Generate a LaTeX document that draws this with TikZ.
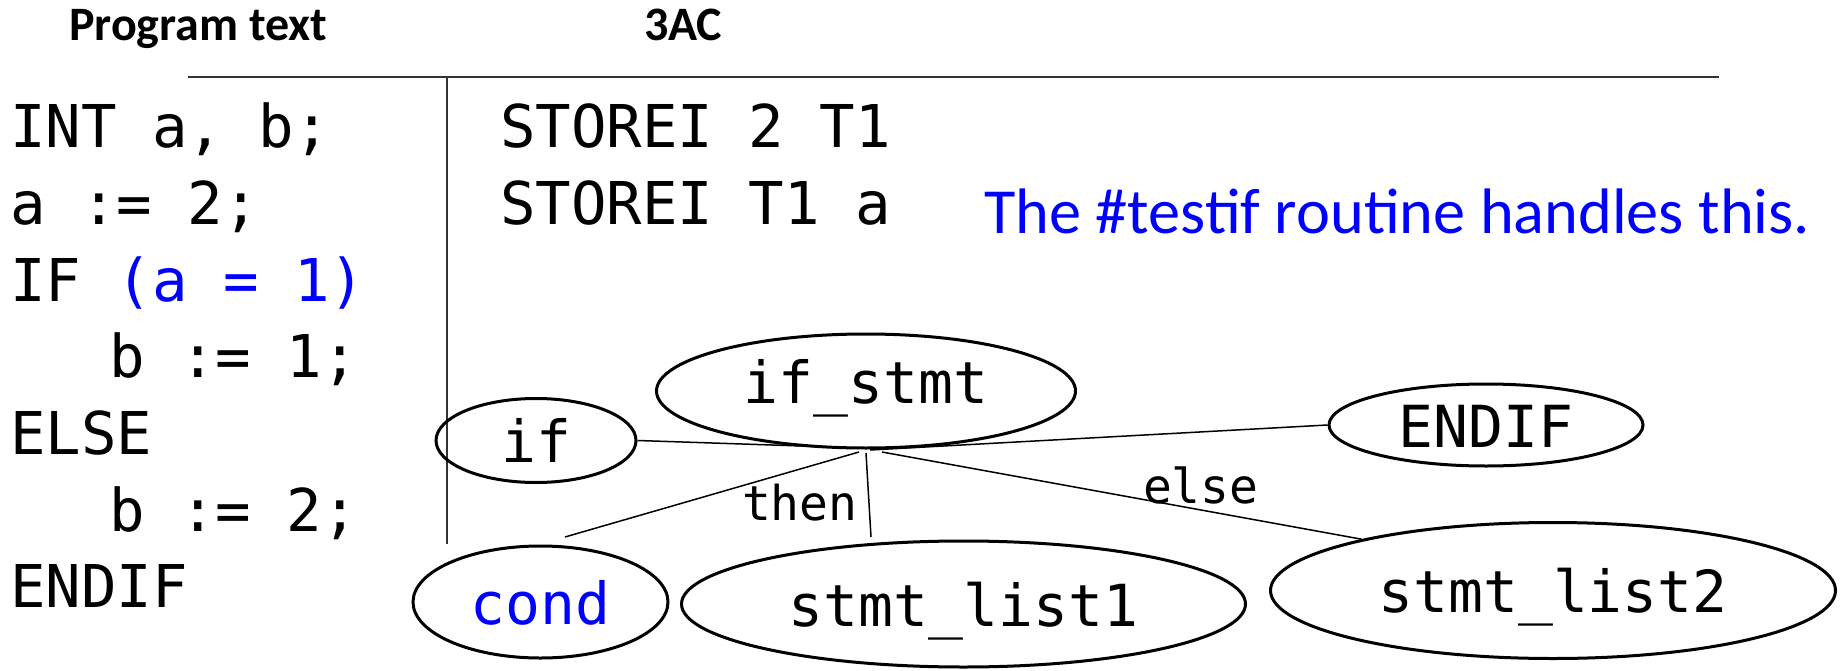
\documentclass[tikz,border=0pt]{standalone}
\usepackage{fontspec}
\setmainfont{Carlito}
\newfontfamily\mono{DejaVu Sans Mono}
\usetikzlibrary{shapes.geometric}
\definecolor{pblue}{RGB}{0,0,255}
\tikzset{
  txt/.style={anchor=base west, inner sep=0pt, outer sep=0pt},
  code/.style={txt, font=\mono\fontsize{59}{70}\selectfont},
  head/.style={txt, font=\bfseries\fontsize{48}{58}\selectfont},
  ell/.style={ellipse, draw, line width=3pt, inner sep=0pt, font=\mono\fontsize{58}{70}\selectfont, text height=44pt, text depth=0pt},
  conn/.style={line width=1.5pt},
  lbl/.style={txt, font=\mono\fontsize{48}{58}\selectfont},
}
\begin{document}
\begin{tikzpicture}[x=1pt, y=-1pt]
\useasboundingbox (0,0) rectangle (1843,671);
% headings
\node[head] (hprog) at (69,41) {Program text};
\node[head] (h3ac) at (644,41) {3AC};
% separators
\draw[line width=2pt, black!80] (188,77.5) coordinate (hl) -- (1719,77.5) coordinate (hr);
\draw[line width=1.5pt, black!80] (447,77.5) coordinate (vt) -- (447,544) coordinate (vb);
% program text
\node[code] (p1) at (10,148) {INT a, b;};
\node[code] (p2) at (10,224.6) {a := 2;};
\node[code] (p3) at (10,301.2) {IF \textcolor{pblue}{(a = 1)}};
\node[code] (p4) at (10,377.8) {\hspace*{99pt}b := 1;};
\node[code] (p5) at (10,454.4) {ELSE};
\node[code] (p6) at (10,531) {\hspace*{99pt}b := 2;};
\node[code] (p7) at (10,607.6) {ENDIF};
% 3AC
\node[code] (t1) at (500,148) {STOREI 2 T1};
\node[code] (t2) at (500,224.6) {STOREI T1 a};
\node[txt, font=\fontsize{64.3}{76}\selectfont, text=pblue] (note) at (984,233) {The \#testif routine handles this.};
% tree
\node[ell, minimum width=419pt, minimum height=114pt, text height=24pt] (ifs) at (866,391) {if\_stmt};
\node[ell, minimum width=200pt, minimum height=84pt] (if) at (536,440.5) {if};
\node[ell, minimum width=314pt, minimum height=82pt] (endif) at (1486,425) {ENDIF};
\node[ell, minimum width=255pt, minimum height=112pt, text=pblue] (cond) at (540.5,602) {cond};
\node[ell, minimum width=564pt, minimum height=126pt] (s1) at (963.5,604) {stmt\_list1};
\node[ell, minimum width=565pt, minimum height=136pt] (s2) at (1553,590.5) {stmt\_list2};
% hub coordinates and free ends
\coordinate (hA) at (862,448);
\coordinate (hB) at (870,450);
\coordinate (hC) at (859,452);
\coordinate (hD) at (866,453);
\coordinate (hE) at (882,452);
\coordinate (cA) at (565,537);
\coordinate (sA) at (871,537);
\draw[conn] (if.east) -- (hA);
\draw[conn] (endif.west) -- (hB);
\draw[conn] (cA) -- (hC);
\draw[conn] (hD) -- (sA);
\draw[conn] (hE) -- (s2.165);
% labels
\node[lbl] (lthen) at (742,520) {then};
\node[lbl] (lelse) at (1143,503) {else};
\end{tikzpicture}
\end{document}
